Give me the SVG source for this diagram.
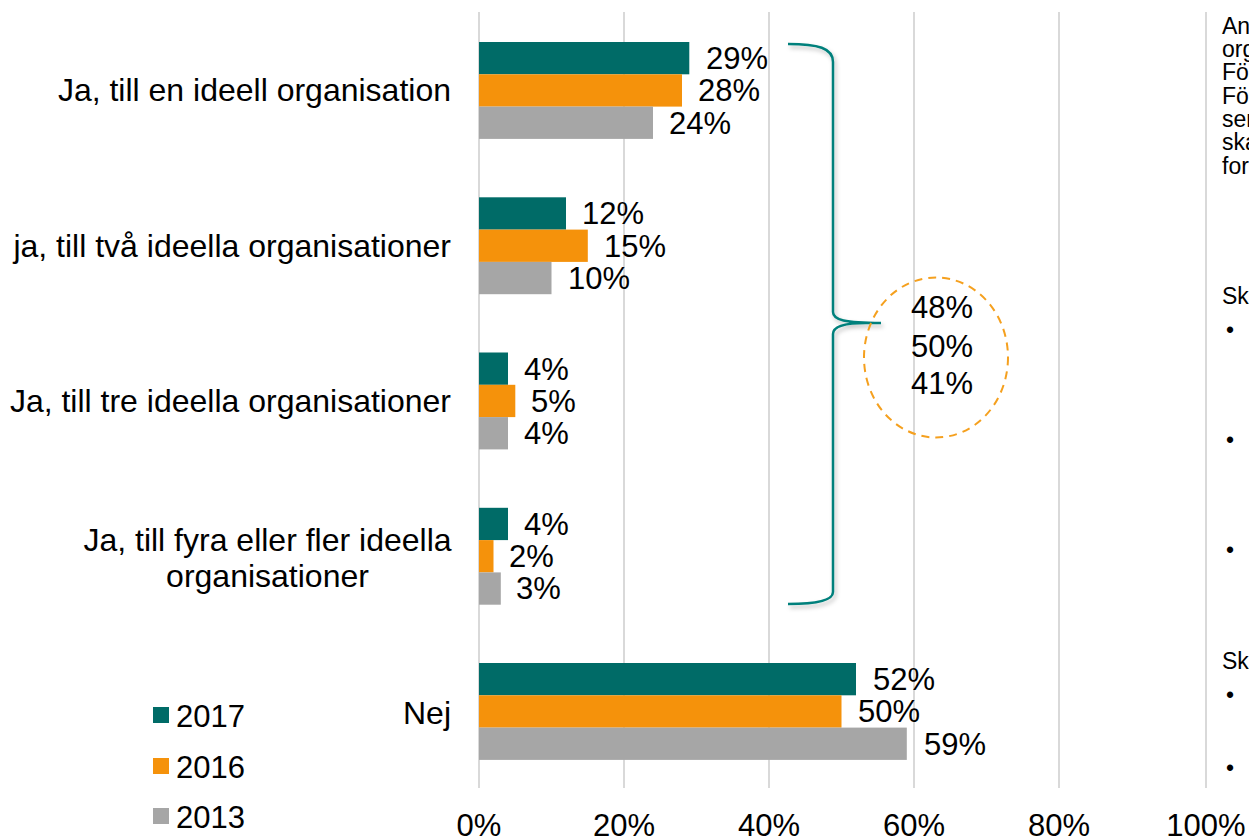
<svg xmlns="http://www.w3.org/2000/svg" width="1249" height="839" viewBox="0 0 1249 839">
<style>
text{font-family:"Liberation Sans",Arial,sans-serif;fill:#000}
.cat{font-size:32px;text-anchor:end}
.catm{font-size:32px;text-anchor:middle}
.val{font-size:31px}
.ax{font-size:31px;text-anchor:middle}
.leg{font-size:31px}
.side{font-size:23px}
.grid{stroke:#d9d9d9;stroke-width:2}
.t{fill:#006B67}
.o{fill:#F5920B}
.g{fill:#A6A6A6}
</style>
<defs>
<filter id="sh" x="-20%" y="-5%" width="140%" height="110%">
<feDropShadow dx="2" dy="3" stdDeviation="2" flood-color="#000" flood-opacity="0.25"/>
</filter>
</defs>
<rect width="1249" height="839" fill="#fff"/>
<g id="grid">
<line class="grid" x1="479" y1="12" x2="479" y2="788"/>
<line class="grid" x1="624" y1="12" x2="624" y2="788"/>
<line class="grid" x1="769" y1="12" x2="769" y2="788"/>
<line class="grid" x1="914" y1="12" x2="914" y2="788"/>
<line class="grid" x1="1059" y1="12" x2="1059" y2="788"/>
<line class="grid" x1="1206" y1="12" x2="1206" y2="788"/>
</g>
<g id="axis-labels">
<text class="ax" x="479" y="836">0%</text>
<text class="ax" x="624" y="836">20%</text>
<text class="ax" x="769" y="836">40%</text>
<text class="ax" x="914" y="836">60%</text>
<text class="ax" x="1059" y="836">80%</text>
<text class="ax" x="1206" y="836">100%</text>
</g>
<g id="cat-labels">
<text class="cat" x="451" y="101">Ja, till en ideell organisation</text>
<text class="cat" x="451" y="257">ja, till två ideella organisationer</text>
<text class="cat" x="451" y="412">Ja, till tre ideella organisationer</text>
<text class="catm" x="267.5" y="551">Ja, till fyra eller fler ideella</text>
<text class="catm" x="267.5" y="587">organisationer</text>
<text class="cat" x="451" y="724">Nej</text>
</g>
<g id="group1">
<rect class="t" x="479" y="42" width="210.3" height="32.3"/>
<rect class="o" x="479" y="74.3" width="203" height="32.3"/>
<rect class="g" x="479" y="106.6" width="174" height="32.3"/>
<text class="val" x="706" y="69">29%</text>
<text class="val" x="698" y="101">28%</text>
<text class="val" x="669" y="134">24%</text>
</g>
<g id="group2">
<rect class="t" x="479" y="197.3" width="87" height="32.3"/>
<rect class="o" x="479" y="229.6" width="108.8" height="32.3"/>
<rect class="g" x="479" y="261.9" width="72.5" height="32.3"/>
<text class="val" x="582" y="224">12%</text>
<text class="val" x="604" y="257">15%</text>
<text class="val" x="568" y="289">10%</text>
</g>
<g id="group3">
<rect class="t" x="479" y="352.5" width="29" height="32.3"/>
<rect class="o" x="479" y="384.8" width="36.3" height="32.3"/>
<rect class="g" x="479" y="417.1" width="29" height="32.3"/>
<text class="val" x="524" y="380">4%</text>
<text class="val" x="531" y="412">5%</text>
<text class="val" x="524" y="444">4%</text>
</g>
<g id="group4">
<rect class="t" x="479" y="507.8" width="29" height="32.3"/>
<rect class="o" x="479" y="540.1" width="14.5" height="32.3"/>
<rect class="g" x="479" y="572.4" width="21.8" height="32.3"/>
<text class="val" x="524" y="535">4%</text>
<text class="val" x="509" y="567">2%</text>
<text class="val" x="516" y="599">3%</text>
</g>
<g id="group5">
<rect class="t" x="479" y="663" width="377" height="32.3"/>
<rect class="o" x="479" y="695.3" width="362.5" height="32.3"/>
<rect class="g" x="479" y="727.6" width="427.8" height="32.3"/>
<text class="val" x="873" y="690">52%</text>
<text class="val" x="858" y="722">50%</text>
<text class="val" x="924" y="755">59%</text>
</g>
<g id="connectors">
<path d="M788,44 C818,44 833,48 833,62 L833,312 C833,320 845,323 881,323 M866,323 C845,323 833,326 833,334 L833,592 C833,600 818,604 788,604" fill="none" stroke="#00807B" stroke-width="2.5" filter="url(#sh)"/>
</g>
<g id="summary">
<ellipse cx="936" cy="357.5" rx="72" ry="80" fill="none" stroke="#F5A01E" stroke-width="2" stroke-dasharray="8 6"/>
<text class="ax" x="942" y="318">48%</text>
<text class="ax" x="942" y="357">50%</text>
<text class="ax" x="942" y="394">41%</text>
</g>
<g id="legend">
<rect class="t" x="153" y="707" width="16" height="16"/>
<text class="leg" x="176" y="727">2017</text>
<rect class="o" x="153" y="758" width="16" height="16"/>
<text class="leg" x="176" y="778">2016</text>
<rect class="g" x="153" y="808" width="16" height="16"/>
<text class="leg" x="176" y="828">2013</text>
</g>
<g id="side-text">
<text class="side" x="1222" y="34">An</text>
<text class="side" x="1222" y="57">org</text>
<text class="side" x="1222" y="80">För</text>
<text class="side" x="1222" y="104">För</text>
<text class="side" x="1222" y="127">ser</text>
<text class="side" x="1222" y="150">ska</text>
<text class="side" x="1222" y="174">for</text>
<text class="side" x="1222" y="304">Sk</text>
<text class="side" x="1226" y="338">•</text>
<text class="side" x="1226" y="448">•</text>
<text class="side" x="1226" y="558">•</text>
<text class="side" x="1222" y="669">Sk</text>
<text class="side" x="1226" y="703">•</text>
<text class="side" x="1226" y="776">•</text>
</g>
</svg>
